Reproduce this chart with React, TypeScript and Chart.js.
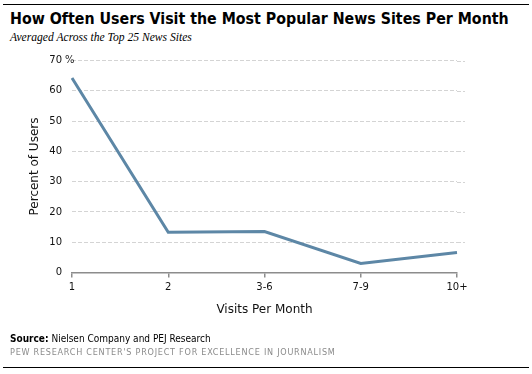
import React, { useEffect, useRef } from "react";
import { Chart, registerables } from "chart.js";

Chart.register(...registerables);

const categories = ["1", "2", "3-6", "7-9", "10+"];
const percentOfUsers = [64.2, 13.3, 13.5, 3.0, 6.6];
const yTicks = [0, 10, 20, 30, 40, 50, 60, 70];

const TICK_FONT = "'DejaVu Sans', sans-serif";

const percentSignPlugin = {
  id: "percentSign",
  afterDraw(chart: any) {
    const y = chart.scales.y;
    const ctx = chart.ctx;
    ctx.save();
    ctx.font = `10px ${TICK_FONT}`;
    ctx.fillStyle = "#222";
    ctx.textAlign = "left";
    ctx.textBaseline = "middle";
    ctx.fillText("%", y.right - 7, y.getPixelForValue(70));
    ctx.restore();
  },
};

const extendGridPlugin = {
  id: "extendGrid",
  beforeDatasetsDraw(chart: any) {
    const y = chart.scales.y;
    const area = chart.chartArea;
    const ctx = chart.ctx;
    ctx.save();
    ctx.strokeStyle = "#d4d4d4";
    ctx.lineWidth = 1;
    ctx.setLineDash([4, 2]);
    yTicks.forEach((v) => {
      if (v === 0) return;
      const py = Math.round(y.getPixelForValue(v)) + 0.5;
      ctx.beginPath();
      ctx.moveTo(area.right, py);
      ctx.lineTo(area.right + 8, py);
      ctx.stroke();
    });
    ctx.restore();
  },
};

export default function App() {
  const ref = useRef<HTMLCanvasElement | null>(null);
  useEffect(() => {
    if (!ref.current) return;
    const chart = new Chart(ref.current, {
      type: "line",
      data: {
        labels: categories,
        datasets: [
          {
            data: percentOfUsers,
            borderColor: "#5d87a6",
            borderWidth: 3,
            pointRadius: 0,
            tension: 0,
            fill: false,
          },
        ],
      },
      options: {
        animation: false,
        responsive: false,
        events: [],
        layout: { padding: { left: 28, right: 75, top: 60.5, bottom: 56.8 } },
        plugins: { legend: { display: false }, tooltip: { enabled: false }, title: { display: false } },
        scales: {
          x: {
            offset: false,
            border: { color: "#8c8c8c", width: 1.5 },
            grid: { drawOnChartArea: false, drawTicks: true, tickLength: 5, color: "#8c8c8c", lineWidth: 1.5 },
            ticks: { color: "#111", font: { family: TICK_FONT, size: 10 }, padding: 4, maxRotation: 0 },
            title: { display: true, text: "Visits Per Month", color: "#111", font: { family: TICK_FONT, size: 12 }, padding: 0 },
            afterFit: (s: any) => { s.height = 44.7; },
          },
          y: {
            min: 0,
            max: 70,
            afterBuildTicks: (s: any) => { s.ticks = yTicks.map((v) => ({ value: v })); },
            border: { display: false, dash: [4, 2] },
            grid: {
              drawTicks: false,
              color: (c: any) => (c.tick && c.tick.value === 0 ? "rgba(0,0,0,0)" : "#d4d4d4"),
              lineWidth: 1,
            },
            ticks: { color: "#111", font: { family: TICK_FONT, size: 10 }, padding: 10 },
            title: { display: true, text: "Percent of Users", color: "#111", font: { family: TICK_FONT, size: 12 }, padding: 0 },
            afterFit: (s: any) => { s.width = 44; },
          },
        },
      },
      plugins: [extendGridPlugin, percentSignPlugin],
    } as any);
    return () => chart.destroy();
  }, []);

  return (
    <div style={{ position: "absolute", left: 0, top: 0, width: 532, height: 374, background: "#fff", overflow: "hidden" }}>
      <div style={{ position: "absolute", left: 3, top: 4, width: 526, height: 1, background: "#000" }} />
      <div style={{ position: "absolute", left: 10, top: 9, fontFamily: "'DejaVu Sans Condensed', 'DejaVu Sans', sans-serif", fontWeight: "bold", fontSize: 15.8, color: "#000", whiteSpace: "nowrap" }}>
        How Often Users Visit the Most Popular News Sites Per Month
      </div>
      <div style={{ position: "absolute", left: 10, top: 31, fontFamily: "'Liberation Serif', serif", fontStyle: "italic", fontSize: 11.6, color: "#000", whiteSpace: "nowrap" }}>
        Averaged Across the Top 25 News Sites
      </div>
      <canvas ref={ref} width={532} height={374} style={{ position: "absolute", left: 0, top: 0 }} />
      <div style={{ position: "absolute", left: 10, top: 333, fontFamily: "'DejaVu Sans Condensed', 'DejaVu Sans', sans-serif", fontSize: 10, color: "#000", whiteSpace: "nowrap" }}>
        <b>Source:</b> Nielsen Company and PEJ Research
      </div>
      <div style={{ position: "absolute", left: 10, top: 347, fontFamily: "'DejaVu Sans Condensed', 'DejaVu Sans', sans-serif", fontSize: 9, color: "#8a8a8a", letterSpacing: 0.75, whiteSpace: "nowrap" }}>
        PEW RESEARCH CENTER'S PROJECT FOR EXCELLENCE IN JOURNALISM
      </div>
      <div style={{ position: "absolute", left: 3, top: 367, width: 526, height: 1, background: "#000" }} />
    </div>
  );
}
